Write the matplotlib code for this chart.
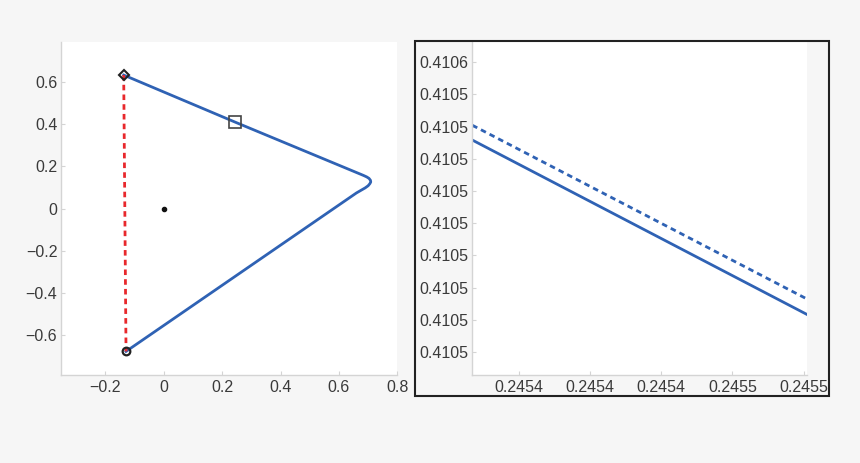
import matplotlib
matplotlib.use("Agg")
import matplotlib.pyplot as plt
from matplotlib.patches import Rectangle

plt.rcParams['font.family'] = ['Liberation Sans', 'DejaVu Sans']

# ---- data: left panel (orbit) ----
orbit_x = [-0.137, 0.245, 0.684, 0.695, 0.703, 0.708, 0.709, 0.706, 0.700, 0.690, 0.660, -0.129]
orbit_y = [0.632, 0.409, 0.157, 0.150, 0.143, 0.134, 0.126, 0.118, 0.108, 0.098, 0.074, -0.676]
chord_x = [-0.137, -0.129]
chord_y = [0.632, -0.676]
start_pt = (-0.137, 0.632)
mid_pt = (0.245, 0.409)
end_pt = (-0.129, -0.676)
origin_pt = (0.0, 0.0)
left_xticks = [-0.2, 0, 0.2, 0.4, 0.6, 0.8]
left_xticklabels = ['\u22120.2', '0', '0.2', '0.4', '0.6', '0.8']
left_yticks = [-0.6, -0.4, -0.2, 0, 0.2, 0.4, 0.6]
left_yticklabels = ['\u22120.6', '\u22120.4', '\u22120.2', '0', '0.2', '0.4', '0.6']

# ---- data: right panel (zoom) ----
zoom_x = [0.2454427, 0.2454521]
solid_y = [0.4105258, 0.4104716]
dotted_y = [0.4105304, 0.4104764]
right_xticks = [0.245444, 0.245446, 0.245448, 0.245450, 0.245452]
right_xticklabels = ['0.2454', '0.2454', '0.2454', '0.2455', '0.2455']
right_yticks = [0.410460, 0.410470, 0.410480, 0.410490, 0.410500,
                0.410510, 0.410520, 0.410530, 0.410540, 0.410550]
right_yticklabels = ['0.4105'] * 9 + ['0.4106']

blue = '#2f62b4'
red = '#e8282c'
spine_col = '#d4d4d4'
text_col = '#3a3a3a'
bg = '#f6f6f6'

fig = plt.figure(figsize=(8.6, 4.63), dpi=100, facecolor=bg)

def style(ax):
    ax.set_facecolor('white')
    for s in ['top', 'right']:
        ax.spines[s].set_visible(False)
    for s in ['left', 'bottom']:
        ax.spines[s].set_color(spine_col)
        ax.spines[s].set_linewidth(1.0)
    ax.tick_params(direction='in', length=3, color=spine_col,
                   labelcolor=text_col, labelsize=11.5, pad=3)

ax1 = fig.add_axes([0.0715, 0.189, 0.3905, 0.721])
style(ax1)
ax1.plot(orbit_x, orbit_y, color=blue, lw=2, solid_joinstyle='round')
ax1.plot(chord_x, chord_y, color=red, lw=2, dashes=(2, 1.5))
ax1.plot(*start_pt, marker='D', ms=5, mfc='none', mec='#222222', mew=1.5)
ax1.plot(*mid_pt, marker='s', ms=8, mfc='none', mec='#444444', mew=1.2)
ax1.plot(*end_pt, marker='o', ms=5.5, mfc='none', mec='#222222', mew=1.6)
ax1.plot(*origin_pt, marker='o', ms=3, color='#111111')
ax1.set_xlim(-0.35, 0.8)
ax1.set_ylim(-0.79, 0.79)
ax1.set_xticks(left_xticks)
ax1.set_xticklabels(left_xticklabels)
ax1.set_yticks(left_yticks)
ax1.set_yticklabels(left_yticklabels)

ax2 = fig.add_axes([0.5492, 0.189, 0.3895, 0.72])
style(ax2)
ax2.plot(zoom_x, solid_y, color=blue, lw=2)
ax2.plot(zoom_x, dotted_y, color=blue, lw=2, dashes=(2, 1.5))
ax2.set_xlim(0.2454427, 0.2454521)
ax2.set_ylim(0.4104527, 0.4105562)
ax2.set_xticks(right_xticks)
ax2.set_xticklabels(right_xticklabels)
ax2.set_yticks(right_yticks)
ax2.set_yticklabels(right_yticklabels)

fig.patches.append(Rectangle((0.4822, 0.1447), 0.4817, 0.7674,
                             transform=fig.transFigure, fill=False,
                             edgecolor='#222222', lw=1.5, zorder=10))

fig.savefig('out.png', dpi=100, facecolor=bg)
